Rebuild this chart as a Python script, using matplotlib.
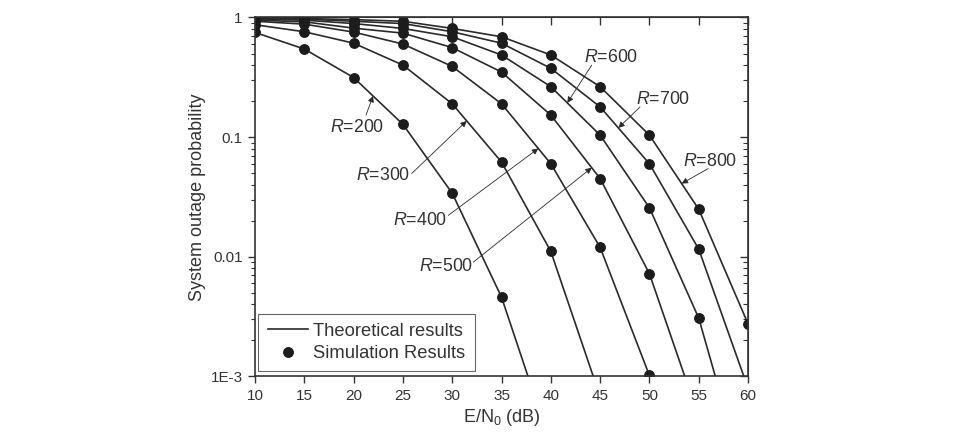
import numpy as np
import matplotlib
matplotlib.use('Agg')
import matplotlib.pyplot as plt
from matplotlib.ticker import LogLocator, NullFormatter

plt.rcParams['font.family'] = ['Liberation Sans', 'DejaVu Sans']
plt.rcParams['mathtext.fontset'] = 'custom'
plt.rcParams['mathtext.rm'] = 'Liberation Sans'
plt.rcParams['mathtext.it'] = 'Liberation Sans:italic'

nan = np.nan
snr_db = [10, 15, 20, 25, 30, 35, 40, 45, 50, 55, 60]
radius = [200, 300, 400, 500, 600, 700, 800]

# theoretical outage probability (last value is where the curve leaves the frame)
theory_200 = [0.75, 0.545, 0.315, 0.128, 0.034, 0.0046, 2.7e-4, nan, nan, nan, nan]
theory_300 = [0.87, 0.76, 0.61, 0.40, 0.19, 0.062, 0.0111, 6.8e-4, nan, nan, nan]
theory_400 = [0.93, 0.88, 0.755, 0.60, 0.39, 0.19, 0.060, 0.012, 0.00102, nan, nan]
theory_500 = [0.95, 0.92, 0.815, 0.74, 0.56, 0.35, 0.153, 0.0451, 0.00723, 4.6e-4, nan]
theory_600 = [0.97, 0.95, 0.89, 0.81, 0.69, 0.486, 0.264, 0.104, 0.0257, 0.00308, 1.1e-4]
theory_700 = [0.98, 0.97, 0.93, 0.89, 0.76, 0.61, 0.376, 0.179, 0.060, 0.0116, 8.0e-4]
theory_800 = [0.99, 0.98, 0.96, 0.93, 0.81, 0.69, 0.486, 0.264, 0.104, 0.025, 0.00276]

# simulation results
sim_200 = [0.75, 0.545, 0.315, 0.128, 0.034, 0.0046, nan, nan, nan, nan, nan]
sim_300 = [0.87, 0.76, 0.61, 0.40, 0.19, 0.062, 0.0111, nan, nan, nan, nan]
sim_400 = [0.93, 0.88, 0.755, 0.60, 0.39, 0.19, 0.060, 0.012, 0.00102, nan, nan]
sim_500 = [0.95, 0.92, 0.815, 0.74, 0.56, 0.35, 0.153, 0.0451, 0.00723, nan, nan]
sim_600 = [0.97, 0.95, 0.89, 0.81, 0.69, 0.486, 0.264, 0.104, 0.0257, 0.00308, nan]
sim_700 = [0.98, 0.97, 0.93, 0.89, 0.76, 0.61, 0.376, 0.179, 0.060, 0.0116, nan]
sim_800 = [0.99, 0.98, 0.96, 0.93, 0.81, 0.69, 0.486, 0.264, 0.104, 0.025, 0.00276]

theory = [theory_200, theory_300, theory_400, theory_500, theory_600, theory_700, theory_800]
sims = [sim_200, sim_300, sim_400, sim_500, sim_600, sim_700, sim_800]

# label placement: text centre, arrow tail, x where the arrow hits the curve
label_pos = [((20.4, 0.121), (21.26, 0.153), 21.97),
             ((23.03, 0.0481), (25.89, 0.0497), 31.47),
             ((26.73, 0.0202), (29.6, 0.0222), 38.73),
             ((29.37, 0.0083), (32.14, 0.00904), 44.15),
             ((46.16, 0.464), (44.15, 0.40), 41.67),
             ((51.43, 0.208), (49.05, 0.179), 46.85),
             ((56.15, 0.0621), (55.97, 0.0547), 53.27)]

ink = '#2a2a2a'
grey = '#333333'

fig = plt.figure(figsize=(9.58, 4.34), dpi=100)
ax = fig.add_axes([0.2662, 0.1325, 0.5146, 0.8272])

for i, r in enumerate(radius):
    ax.plot(snr_db, theory[i], color=ink, lw=1.2,
            label='Theoretical results' if i == 0 else None)
    ax.plot(snr_db, sims[i], ls='none', marker='o', ms=6.8, color='#1c1c1c',
            label='Simulation Results' if i == 0 else None)

for i, r in enumerate(radius):
    txt, tail, hx = label_pos[i]
    th = np.array(theory[i])
    ok = ~np.isnan(th)
    hy = 10 ** np.interp(hx, np.array(snr_db)[ok], np.log10(th[ok]))
    ax.annotate('', xy=(hx, hy), xytext=tail,
                arrowprops=dict(arrowstyle='-|>', lw=0.6, color=ink,
                                mutation_scale=9, shrinkA=0, shrinkB=0))
    ax.text(txt[0], txt[1], r'$R$=%d' % r, ha='center', va='center',
            fontsize=12.8, color=grey)

ax.set_yscale('log')
ax.set_xlim(10, 60)
ax.set_ylim(1e-3, 1)
ax.set_xticks(snr_db)
ax.set_yticks([1e-3, 1e-2, 0.1, 1])
ax.set_yticklabels(['1E-3', '0.01', '0.1', '1'])
ax.yaxis.set_minor_locator(LogLocator(base=10, subs=np.arange(2, 10)))
ax.yaxis.set_minor_formatter(NullFormatter())
ax.tick_params(which='major', direction='out', length=5, width=1, color=grey,
               labelsize=11, labelcolor=grey, pad=4)
ax.tick_params(which='minor', direction='out', length=3, width=0.8, color=grey)
for s in ax.spines.values():
    s.set_color(grey)
    s.set_linewidth(1.2)

# mirrored ticks on top and right point inwards
secx = ax.secondary_xaxis('top')
secx.set_xticks(snr_db)
secx.tick_params(direction='in', length=6, width=1, color=grey, labeltop=False)
secx.spines['top'].set_color(grey)
secy = ax.secondary_yaxis('right')
secy.set_yticks([1e-3, 1e-2, 0.1, 1])
secy.yaxis.set_minor_locator(LogLocator(base=10, subs=np.arange(2, 10)))
secy.yaxis.set_minor_formatter(NullFormatter())
secy.tick_params(which='major', direction='in', length=6, width=1, color=grey,
                 labelright=False)
secy.tick_params(which='minor', direction='in', length=3.5, width=0.8, color=grey)
secy.spines['right'].set_color(grey)

ax.set_xlabel(r'E/N$_\mathregular{0}$ (dB)', fontsize=13, color=grey, labelpad=3)
ax.set_ylabel('System outage probability', fontsize=13, color=grey, labelpad=3)

leg = ax.legend(loc='lower left', bbox_to_anchor=(0.007, 0.015), borderaxespad=0,
                fontsize=13.2, frameon=True, fancybox=False, framealpha=1,
                edgecolor='#666666', handlelength=2.2, handletextpad=0.3,
                labelspacing=0.28, borderpad=0.5, labelcolor=grey)
leg.get_frame().set_linewidth(0.8)

fig.savefig('out.png', dpi=100)
